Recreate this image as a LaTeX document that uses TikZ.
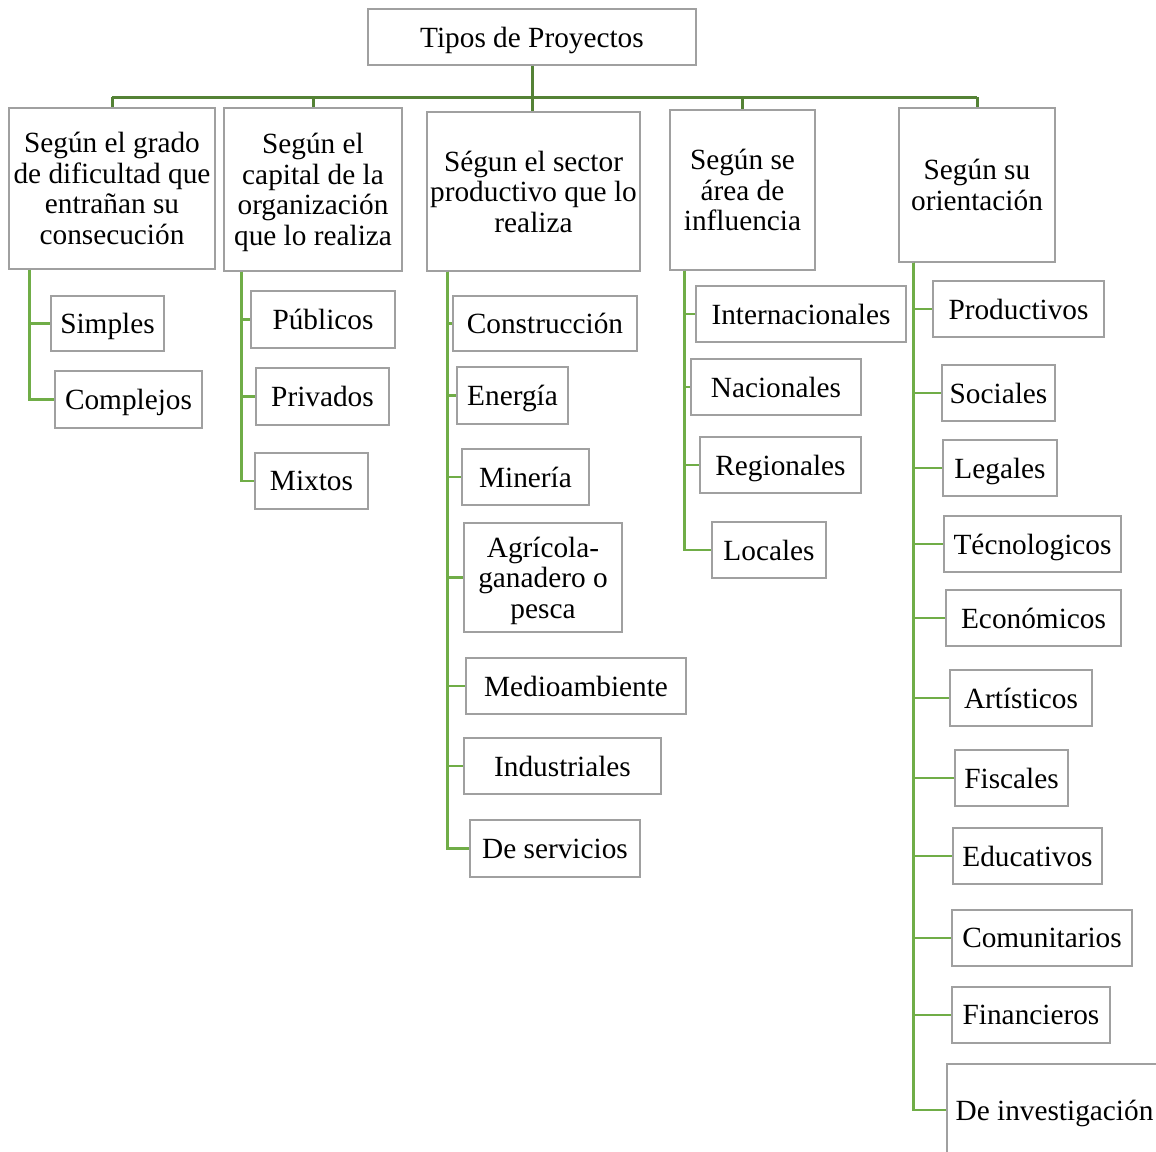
\documentclass[tikz,border=0pt]{standalone}
\usepackage{fontspec}
\setmainfont{Liberation Serif}
\usepackage{tikz}
\usetikzlibrary{positioning}
\definecolor{trunkgreen}{HTML}{548235}
\definecolor{branchgreen}{HTML}{70AD47}
\definecolor{boxgray}{HTML}{A0A0A0}

\begin{document}
\begin{tikzpicture}[x=0.5pt, y=-0.5pt,
    box/.style = {draw=boxgray, line width=0.7pt, fill=white, align=center, inner sep=0pt,
                  text depth=0pt, font=\fontsize{14.65}{15.25}\selectfont},
    sz/.style 2 args = {minimum width=#1*0.5pt, minimum height=#2*0.5pt},
    trunk/.style = {draw=trunkgreen, line width=1.5pt},
    branch/.style = {draw=branchgreen, line width=1.3pt}]
    \clip (0,0) rectangle (1156,1151);

    % root and groups
    \node[box, sz={328}{56}] (root) at (532,37) {Tipos de Proyectos};
    \node[box, sz={206}{161}] (grado) at (112,188.5) {Según el grado\\de dificultad que\\entrañan su\\consecución};
    \node[box, sz={178}{163}] (capital) at (313,189.5) {Según el\\capital de la\\organización\\que lo realiza};
    \node[box, sz={213}{159}] (sector) at (533.5,191.5) {Ségun el sector\\productivo que lo\\realiza};
    \node[box, sz={145}{160}] (area) at (742.5,190) {Según se\\área de\\influencia};
    \node[box, sz={156}{154}] (orient) at (977,185) {Según su\\orientación};

    % dificultad
    \node[box, sz={113}{55}] (simples) at (107.5,323.5) {Simples};
    \node[box, sz={147}{57}] (complejos) at (128.5,399.5) {Complejos};

    % capital
    \node[box, sz={144}{57}] (publicos) at (323,319.5) {Públicos};
    \node[box, sz={133}{57}] (privados) at (322.5,396.5) {Privados};
    \node[box, sz={113}{56}] (mixtos) at (311.5,481) {Mixtos};

    % sector productivo
    \node[box, sz={184}{55}] (construccion) at (545,323.5) {Construcción};
    \node[box, sz={111}{57}] (energia) at (512.5,395.5) {Energía};
    \node[box, sz={127}{56}] (mineria) at (525.5,477) {Minería};
    \node[box, sz={158}{109}] (agricola) at (543,577.5) {Agrícola-\\ganadero o\\pesca};
    \node[box, sz={220}{56}] (medio) at (576,686) {Medioambiente};
    \node[box, sz={197}{56}] (industriales) at (562.5,766) {Industriales};
    \node[box, sz={170}{57}] (servicios) at (555,848.5) {De servicios};

    % area de influencia
    \node[box, sz={210}{56}] (internac) at (801,314) {Internacionales};
    \node[box, sz={170}{56}] (nacionales) at (776,387) {Nacionales};
    \node[box, sz={161}{56}] (regionales) at (780.5,465) {Regionales};
    \node[box, sz={114}{56}] (locales) at (769,550) {Locales};

    % orientacion
    \node[box, sz={171}{56}] (productivos) at (1018.5,309) {Productivos};
    \node[box, sz={113}{56}] (sociales) at (998.5,393) {Sociales};
    \node[box, sz={114}{56}] (legales) at (1000,468) {Legales};
    \node[box, sz={177}{56}] (tecno) at (1032.5,544) {Técnologicos};
    \node[box, sz={175}{56}] (economicos) at (1033.5,618) {Económicos};
    \node[box, sz={142}{56}] (artisticos) at (1021,698) {Artísticos};
    \node[box, sz={113}{56}] (fiscales) at (1011.5,778) {Fiscales};
    \node[box, sz={149}{56}] (educativos) at (1027.5,856) {Educativos};
    \node[box, sz={180}{56}] (comunitarios) at (1042,938) {Comunitarios};
    \node[box, sz={158}{56}] (financieros) at (1031,1015) {Financieros};
    \node[box, sz={215}{92}] (investigacion) at (1054.5,1110) {De investigación};

    % trunk lines
    \coordinate (bar) at (532,97);
    \draw[trunk] (root.south) -- (root.south |- sector.north);
    \draw[trunk] (grado.north |- bar) -- (orient.north |- bar);
    \foreach \g in {grado,capital,area,orient}
        \draw[trunk] (\g.north |- bar) -- (\g.north);

    % branch lines
    \foreach \c in {simples,complejos}
        \draw[branch] ([xshift=10.5pt]grado.south west) |- (\c.west);
    \foreach \c in {publicos,privados,mixtos}
        \draw[branch] ([xshift=9pt]capital.south west) |- (\c.west);
    \foreach \c in {construccion,energia,mineria,agricola,medio,industriales,servicios}
        \draw[branch] ([xshift=10.5pt]sector.south west) |- (\c.west);
    \foreach \c in {internac,nacionales,regionales,locales}
        \draw[branch] ([xshift=7.5pt]area.south west) |- (\c.west);
    \foreach \c in {productivos,sociales,legales,tecno,economicos,artisticos,fiscales,educativos,comunitarios,financieros,investigacion}
        \draw[branch] ([xshift=7.5pt]orient.south west) |- (\c.west);
\end{tikzpicture}
\end{document}
